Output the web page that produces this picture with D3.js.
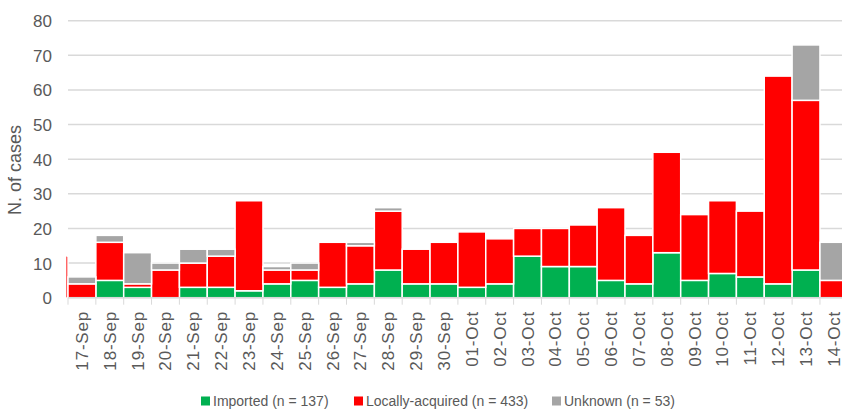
<!DOCTYPE html>
<html>
<head>
<meta charset="utf-8">
<script src="https://cdn.jsdelivr.net/npm/d3@7"></script>
<style>
  body { margin: 0; background: #fff; }
  svg { display: block; }
  text { font-family: "Liberation Sans", Arial, sans-serif; fill: #595959; }
</style>
</head>
<body>
<div class="canvas"></div>
<script>
// days (16-Sep only peeks in at the left edge of the crop)
const days = ["16-Sep", "17-Sep", "18-Sep", "19-Sep", "20-Sep", "21-Sep", "22-Sep", "23-Sep",
  "24-Sep", "25-Sep", "26-Sep", "27-Sep", "28-Sep", "29-Sep", "30-Sep", "01-Oct",
  "02-Oct", "03-Oct", "04-Oct", "05-Oct", "06-Oct", "07-Oct", "08-Oct", "09-Oct",
  "10-Oct", "11-Oct", "12-Oct", "13-Oct", "14-Oct"];
const imported = [0, 0, 5, 3, 0, 3, 3, 2, 4, 5, 3, 4, 8, 4, 4, 3, 4, 12, 9, 9, 5, 4, 13, 5, 7, 6, 4, 8, 0];
const local    = [12, 4, 11, 1, 8, 7, 9, 26, 4, 3, 13, 11, 17, 10, 12, 16, 13, 8, 11, 12, 21, 14, 29, 19, 21, 19, 60, 49, 5];
const unknown  = [0, 2, 2, 9, 2, 4, 2, 0, 1, 2, 0, 1, 1, 0, 0, 0, 0, 0, 0, 0, 0, 0, 0, 0, 0, 0, 0, 16, 11];
const yTicks = [0, 10, 20, 30, 40, 50, 60, 70, 80];

const series = [
  { key: "imported", label: "Imported (n = 137)", color: "#00b050" },
  { key: "local", label: "Locally-acquired (n = 433)", color: "#ff0000" },
  { key: "unknown", label: "Unknown (n = 53)", color: "#a5a5a5" }
];

const W = 842, H = 410;
const left = 68, step = 27.85;

const svg = d3.select(".canvas").append("svg").attr("width", W).attr("height", H);

let table = days.map((d, i) => ({ day: d, imported: imported[i], local: local[i], unknown: unknown[i] }));
let stack = d3.stack().keys(series.map(s => s.key))(table);

let xScale = d3.scaleBand()
  .domain(days)
  .range([left - step, left - step + days.length * step])
  .padding(0);
let yScale = d3.scaleLinear().domain([0, 80]).range([297.7, 20.7]);

// gridlines
svg.append("g")
  .selectAll("line")
  .data(yTicks)
  .enter()
  .append("line")
  .attr("x1", left)
  .attr("x2", W)
  .attr("y1", d => yScale(d))
  .attr("y2", d => yScale(d))
  .attr("stroke", "#d9d9d9")
  .attr("stroke-width", 1.5);

// y axis labels
let yAxis = svg.append("g")
  .attr("transform", `translate(${left - 16},0)`)
  .call(d3.axisLeft(yScale).tickValues(yTicks).tickSize(0).tickPadding(0));
yAxis.select(".domain").remove();
yAxis.selectAll("text")
  .style("font-size", "17px")
  .attr("dy", "0.35em");

svg.append("text")
  .attr("transform", "translate(21,170) rotate(-90)")
  .attr("text-anchor", "middle")
  .style("font-size", "18px")
  .text("N. of cases");

svg.append("clipPath").attr("id", "clip")
  .append("rect").attr("x", left - 1.6).attr("y", 0).attr("width", W).attr("height", H);

let plot = svg.append("g").attr("clip-path", "url(#clip)");

// stacked bars
plot.selectAll("g.layer")
  .data(stack)
  .enter()
  .append("g")
  .attr("class", "layer")
  .attr("fill", (d, i) => series[i].color)
  .selectAll("rect")
  .data(d => d.filter(p => p[1] > p[0]))
  .enter()
  .append("rect")
  .attr("x", d => xScale(d.data.day))
  .attr("width", xScale.bandwidth())
  .attr("y", d => yScale(d[1]))
  .attr("height", d => yScale(d[0]) - yScale(d[1]))
  .attr("stroke", "#fff")
  .attr("stroke-width", 1.5);

// x axis line and tick marks between days
plot.append("line")
  .attr("x1", left).attr("x2", W)
  .attr("y1", yScale(0)).attr("y2", yScale(0))
  .attr("stroke", "#d9d9d9").attr("stroke-width", 1.5);
plot.append("g")
  .selectAll("line")
  .data(days)
  .enter()
  .append("line")
  .attr("x1", d => xScale(d) + xScale.bandwidth())
  .attr("x2", d => xScale(d) + xScale.bandwidth())
  .attr("y1", yScale(0))
  .attr("y2", yScale(0) + 7)
  .attr("stroke", "#d9d9d9")
  .attr("stroke-width", 1);

// x labels, rotated
plot.append("g")
  .selectAll("text")
  .data(days)
  .enter()
  .append("text")
  .attr("transform", d => `translate(${xScale(d) + xScale.bandwidth() / 2 + 6},311) rotate(-90)`)
  .attr("text-anchor", "end")
  .style("font-size", "17px")
  .style("letter-spacing", "0.8px")
  .text(d => d);

// legend
let legendX = [201, 354, 552];
let legend = svg.append("g").attr("class", "legend")
  .selectAll("g")
  .data(series)
  .enter()
  .append("g")
  .attr("transform", (d, i) => `translate(${legendX[i]},401)`);
legend.append("rect")
  .attr("x", 0).attr("y", -4.5)
  .attr("width", 9).attr("height", 9)
  .attr("fill", d => d.color);
legend.append("text")
  .attr("x", 12)
  .attr("dy", "0.35em")
  .style("font-size", "14px")
  .text(d => d.label);
</script>
</body>
</html>
